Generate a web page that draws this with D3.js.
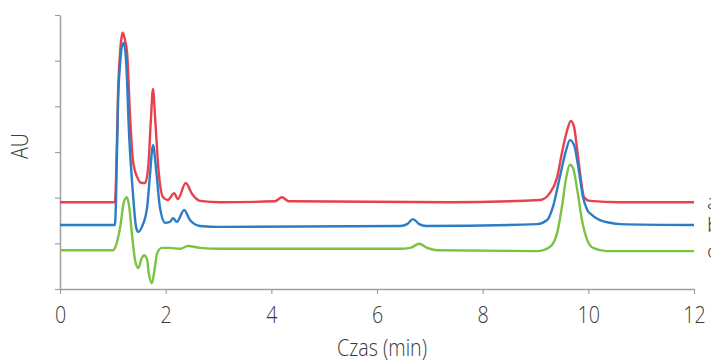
<!DOCTYPE html>
<html lang="pl">
<head>
    <meta charset="UTF-8">
    <title>chromatogram</title>
    <script src="https://cdn.jsdelivr.net/npm/d3@7/dist/d3.min.js"></script>
    <style>
        body { margin: 0; background: #fff; }
        svg text { font-family: "Open Sans", "Noto Sans", sans-serif; font-weight: 300; fill: #3a3a3a; }
    </style>
</head>
<body>
    <script>
        // czas (min) i sygnał (AU)
        const timeA = [0, 1.04, 1.06, 1.10, 1.14, 1.17, 1.19, 1.23, 1.27, 1.33, 1.38, 1.46, 1.55, 1.61, 1.67, 1.72, 1.76, 1.80, 1.86, 1.95, 2.04, 2.16, 2.23, 2.38, 2.50, 2.65, 3.03, 4.07, 4.20, 4.33, 7.38, 9.09, 9.27, 9.41, 9.50, 9.60, 9.67, 9.73, 9.79, 9.86, 9.92, 10.03, 10.60, 12];
        const auA   = [19.0, 19.0, 23.9, 43.6, 52.3, 55.4, 56.1, 54.5, 51.7, 37.0, 28.2, 24.5, 23.2, 23.2, 26.7, 37.0, 43.8, 37.6, 26.7, 20.1, 19.5, 21.0, 19.7, 23.2, 20.8, 19.3, 19.0, 19.2, 20.1, 19.2, 19.0, 19.5, 21.0, 24.5, 29.8, 34.8, 36.8, 35.5, 30.4, 23.9, 20.1, 19.3, 19.0, 19.0];

        const timeB = [0, 1.04, 1.06, 1.10, 1.14, 1.17, 1.21, 1.25, 1.31, 1.38, 1.44, 1.48, 1.55, 1.65, 1.70, 1.76, 1.82, 1.89, 1.99, 2.08, 2.14, 2.21, 2.35, 2.46, 2.65, 3.03, 6.44, 6.57, 6.68, 6.80, 6.93, 9.03, 9.22, 9.33, 9.46, 9.58, 9.65, 9.73, 9.81, 9.90, 9.98, 10.07, 10.22, 10.41, 10.60, 12];
        const auB   = [14.0, 14.0, 19.5, 41.4, 49.7, 53.0, 53.9, 50.1, 33.3, 21.0, 13.6, 12.5, 13.6, 18.0, 24.5, 31.5, 26.1, 18.0, 14.5, 14.7, 15.5, 14.7, 17.3, 15.1, 13.8, 13.6, 13.8, 14.2, 15.3, 14.2, 13.8, 14.2, 15.1, 18.0, 24.5, 30.4, 32.6, 31.5, 26.7, 20.1, 17.3, 16.2, 15.1, 14.5, 14.2, 14.0];

        const timeC = [0, 1.00, 1.04, 1.14, 1.21, 1.27, 1.31, 1.36, 1.42, 1.48, 1.55, 1.59, 1.65, 1.68, 1.74, 1.78, 1.84, 1.93, 2.08, 2.27, 2.42, 2.65, 3.03, 6.44, 6.63, 6.80, 6.95, 7.14, 9.03, 9.27, 9.41, 9.50, 9.58, 9.65, 9.71, 9.79, 9.88, 9.98, 10.09, 10.35, 12];
        const auC   = [8.5, 8.5, 9.0, 13.6, 19.1, 20.1, 18.0, 12.3, 6.4, 4.6, 6.8, 7.4, 6.4, 3.5, 1.3, 3.5, 7.9, 9.0, 9.0, 8.8, 9.4, 9.0, 8.8, 8.8, 9.0, 9.9, 9.0, 8.5, 8.3, 9.2, 12.3, 18.0, 24.3, 27.2, 26.5, 21.7, 15.1, 10.7, 9.0, 8.3, 8.3];

        const seriesNames = ['a', 'b', 'c'];
        const seriesColors = ['#e8414b', '#2b7ec6', '#7cc243'];
        const xTicks = [0, 2, 4, 6, 8, 10, 12];
        const yTicks = [0, 10, 20, 30, 40, 50, 60];

        const width = 711, height = 363;
        const svg = d3.select('body').append('svg')
                        .attr('width', width)
                        .attr('height', height);

        const x = d3.scaleLinear().domain([0, 12]).range([60, 694]);
        const y = d3.scaleLinear().domain([0, 60]).range([289, 15]);
        const narrow = 'scale(0.82,1)'; // wąski krój jak w oryginale

        // osie
        const xAxis = svg.append('g').attr('transform', 'translate(0,289)')
            .call(d3.axisBottom(x).tickValues(xTicks).tickSize(5).tickPadding(12).tickSizeOuter(0));
        const yAxis = svg.append('g').attr('transform', 'translate(60,0)')
            .call(d3.axisLeft(y).tickValues(yTicks).tickSize(5).tickFormat('').tickSizeOuter(0));
        [xAxis, yAxis].forEach(function (g) {
            g.select('.domain').attr('stroke', '#a0a0a0').attr('stroke-width', 1.5);
            g.selectAll('.tick line').attr('stroke', '#a0a0a0').attr('stroke-width', 1.2);
        });
        xAxis.selectAll('.tick text').attr('font-size', '24px').attr('transform', narrow)
            .style('font-family', '"Open Sans", "Noto Sans", sans-serif').style('font-weight', 300).attr('fill', '#3a3a3a');

        svg.append('g').attr('transform', 'translate(382,356)')
            .append('text').attr('transform', narrow)
            .attr('text-anchor', 'middle').attr('font-size', '24px').text('Czas (min)');
        svg.append('g').attr('transform', 'translate(28,146) rotate(-90)')
            .append('text').attr('transform', narrow)
            .attr('text-anchor', 'middle').attr('font-size', '24px').text('AU');

        // przebiegi
        const line = d3.line()
            .x(function (d) { return x(d[0]); })
            .y(function (d) { return y(d[1]); })
            .curve(d3.curveMonotoneX);

        const traces = [d3.zip(timeA, auA), d3.zip(timeB, auB), d3.zip(timeC, auC)];
        svg.selectAll('.trace').data(traces).enter().append('path')
            .attr('class', 'trace')
            .attr('fill', 'none')
            .attr('stroke', function (d, i) { return seriesColors[i]; })
            .attr('stroke-width', 2.4)
            .attr('stroke-linejoin', 'round')
            .attr('d', line);

        // etykiety serii po prawej
        const lastVals = [auA[auA.length - 1], auB[auB.length - 1], auC[auC.length - 1]];
        svg.selectAll('.lbl').data(seriesNames).enter().append('text')
            .attr('class', 'lbl')
            .attr('x', 707)
            .attr('y', function (d, i) { return y(lastVals[i]) + 7; })
            .attr('font-size', '21px')
            .text(function (d) { return d; });
    </script>
</body>
</html>
